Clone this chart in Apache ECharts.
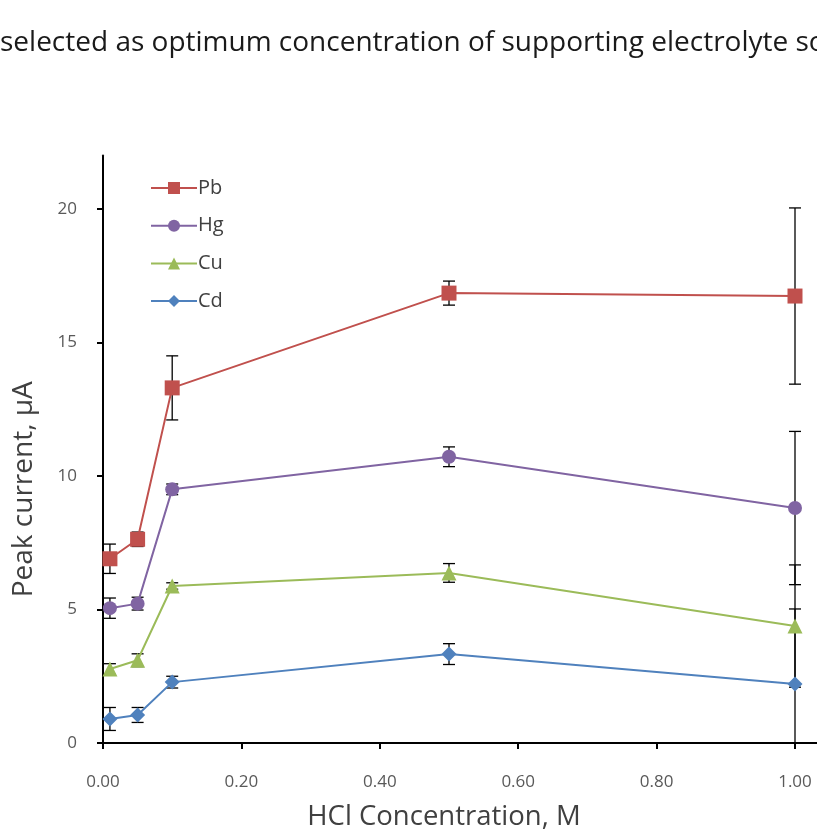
<!DOCTYPE html>
<html>
<head>
<meta charset="utf-8">
<script src="https://cdn.jsdelivr.net/npm/echarts@6/dist/echarts.min.js"></script>
<style>
  html, body { margin: 0; padding: 0; background: #fff; }
  #chart { width: 817px; height: 832px; }
</style>
</head>
<body>
<div id="chart"></div>
<script>
// HCl concentration (M) and peak currents (µA) with standard deviations
const hclConc = [0.01, 0.05, 0.10, 0.50, 1.00];
const pbMean = [6.9, 7.63, 13.3, 16.85, 16.74];
const pbErr  = [0.55, 0.27, 1.2, 0.45, 3.3];
const hgMean = [5.05, 5.22, 9.5, 10.72, 8.8];
const hgErr  = [0.38, 0.24, 0.2, 0.37, 2.87];
const cuMean = [2.77, 3.1, 5.88, 6.37, 4.38];
const cuErr  = [0.2, 0.24, 0.12, 0.35, 2.29];
const cdMean = [0.9, 1.05, 2.28, 3.33, 2.21];
const cdErr  = [0.43, 0.28, 0.22, 0.39, 2.81];
const xTicks = [0, 0.2, 0.4, 0.6, 0.8, 1.0];
const yTicks = [0, 5, 10, 15, 20];

const metals = [
  { name: 'Pb', mean: pbMean, err: pbErr, color: '#C0504D', symbol: 'rect', size: 15 },
  { name: 'Hg', mean: hgMean, err: hgErr, color: '#8064A2', symbol: 'circle', size: 14 },
  { name: 'Cu', mean: cuMean, err: cuErr, color: '#9BBB59', symbol: 'triangle', size: 15 },
  { name: 'Cd', mean: cdMean, err: cdErr, color: '#4F81BD', symbol: 'diamond', size: 15 }
];

const FONT = '"Open Sans", "Noto Sans", sans-serif';

// vertical error bar with caps, clamped to the plotting area
function errorBar(params, api) {
  const x = api.value(0);
  const lo = Math.max(api.value(1), 0);
  const hi = api.value(2);
  const p1 = api.coord([x, lo]);
  const p2 = api.coord([x, hi]);
  const capHalf = 6;
  const style = { stroke: '#000', lineWidth: 1.3 };
  const children = [
    { type: 'line', shape: { x1: p1[0], y1: p1[1], x2: p2[0], y2: p2[1] }, style: style },
    { type: 'line', shape: { x1: p2[0] - capHalf, y1: p2[1], x2: p2[0] + capHalf, y2: p2[1] }, style: style }
  ];
  if (api.value(1) >= 0) {
    children.push({ type: 'line', shape: { x1: p1[0] - capHalf, y1: p1[1], x2: p1[0] + capHalf, y2: p1[1] }, style: style });
  }
  return { type: 'group', children: children };
}

const series = [];
metals.forEach(m => {
  series.push({
    type: 'custom',
    name: m.name + ' error',
    renderItem: errorBar,
    data: hclConc.map((x, i) => [x, m.mean[i] - m.err[i], m.mean[i] + m.err[i]]),
    encode: { x: 0, y: [1, 2] },
    z: 3,
    silent: true
  });
});
metals.forEach(m => {
  series.push({
    type: 'line',
    name: m.name,
    data: hclConc.map((x, i) => [x, m.mean[i]]),
    symbol: m.symbol,
    symbolSize: m.size,
    lineStyle: { color: m.color, width: 2 },
    itemStyle: { color: m.color },
    z: 4
  });
});

const chart = echarts.init(document.getElementById('chart'), null, { renderer: 'canvas' });
chart.setOption({
  animation: false,
  backgroundColor: '#fff',
  graphic: [
    {
      type: 'text', left: 0, top: 29,
      style: { text: 'selected as optimum concentration of supporting electrolyte so', font: '28px ' + FONT, fill: '#1a1a1a' }
    }
  ],
  legend: {
    data: metals.map(m => m.name),
    orient: 'vertical',
    left: 145,
    top: 173,
    itemWidth: 46,
    itemHeight: 15,
    itemGap: 17.7,
    textStyle: { fontFamily: FONT, fontSize: 20, color: '#404040', padding: [0, 0, 0, -4] }
  },
  grid: { left: 103, top: 155.6, width: 714, height: 587.4, containLabel: false, outerBoundsMode: 'none' },
  xAxis: {
    type: 'value',
    min: 0, max: 714 / 692,
    name: 'HCl Concentration, M',
    nameLocation: 'middle',
    nameGap: 60,
    nameTextStyle: { fontFamily: FONT, fontSize: 27.5, color: '#404040', padding: [0, 32, 0, 0] },
    axisLine: { lineStyle: { color: '#000', width: 2 } },
    axisTick: { show: true, length: 6, lineStyle: { color: '#000', width: 2 }, customValues: xTicks },
    axisLabel: {
      customValues: xTicks,
      formatter: v => v.toFixed(2),
      fontFamily: FONT, fontSize: 17, color: '#595959', margin: 31
    },
    splitLine: { show: false }
  },
  yAxis: {
    type: 'value',
    min: 0, max: 22,
    name: 'Peak current, µA',
    nameLocation: 'middle',
    nameGap: 65,
    nameTextStyle: { fontFamily: FONT, fontSize: 28, color: '#404040', padding: [0, 80, 0, 0] },
    axisLine: { show: true, lineStyle: { color: '#000', width: 2 } },
    axisTick: { show: true, length: 6, lineStyle: { color: '#000', width: 2 }, customValues: yTicks },
    axisLabel: { customValues: yTicks, fontFamily: FONT, fontSize: 17, color: '#595959', margin: 26 },
    splitLine: { show: false }
  },
  series: series
});
</script>
</body>
</html>
